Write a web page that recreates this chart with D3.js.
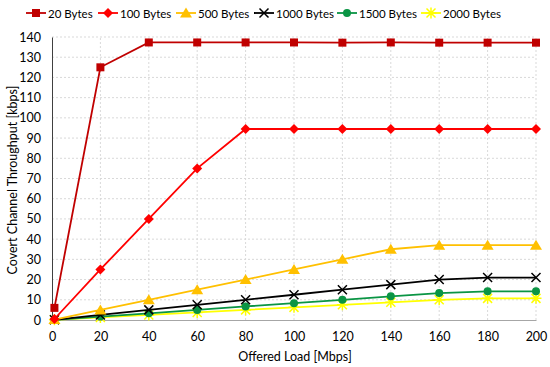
<!DOCTYPE html>
<html><head><meta charset="utf-8">
<script src="https://cdn.jsdelivr.net/npm/d3@7"></script>
<style>
body{margin:0;background:#fff;}
text{font-family:Lato,"Open Sans",sans-serif;fill:#000;}
</style></head>
<body><svg id="c" width="550" height="367"></svg>
<script>
const xValues = [1, 20, 40, 60, 80, 100, 120, 140, 160, 180, 200];
const seriesNames = ["20 Bytes", "100 Bytes", "500 Bytes", "1000 Bytes", "1500 Bytes", "2000 Bytes"];
const s20   = [6, 125, 137.3, 137.3, 137.3, 137.3, 137.2, 137.3, 137.2, 137.2, 137.2];
const s100  = [0.5, 25, 50, 75, 94.5, 94.5, 94.5, 94.5, 94.5, 94.5, 94.5];
const s500  = [0.2, 5, 10, 15, 20, 25, 30, 35, 37, 37, 37];
const s1000 = [0.1, 2.5, 5, 7.5, 10, 12.5, 15, 17.5, 20, 21, 21];
const s1500 = [0.1, 1.7, 3.3, 5, 6.7, 8.3, 10, 11.7, 13.3, 14.2, 14.2];
const s2000 = [0.1, 1.25, 2.5, 3.75, 5, 6.25, 7.5, 8.75, 10, 10.7, 10.7];
const xTicks = [0, 20, 40, 60, 80, 100, 120, 140, 160, 180, 200];
const yTicks = [0, 10, 20, 30, 40, 50, 60, 70, 80, 90, 100, 110, 120, 130, 140];
const colors = ["#C00000", "#FF0000", "#FFC000", "#000000", "#0A9544", "#FFFF00"];
const markers = ["square", "diamond", "triangle", "x", "circle", "star"];
const allSeries = [s20, s100, s500, s1000, s1500, s2000];

const FS = "12.5px";
const svg = d3.select("#c");
const x = d3.scaleLinear().domain([0, 200]).range([52, 536]);
const y = d3.scaleLinear().domain([0, 140]).range([320, 37]);

// grid
const g = svg.append("g");
g.selectAll(".hg").data(yTicks.filter(d => d > 0)).join("line")
  .attr("x1", x(0)).attr("x2", x(200)).attr("y1", d => y(d)).attr("y2", d => y(d))
  .attr("stroke", "#d9d9d9").attr("stroke-width", 1).attr("stroke-dasharray", "2,2");
g.selectAll(".vg").data(xTicks.filter(d => d > 0)).join("line")
  .attr("x1", d => x(d)).attr("x2", d => x(d)).attr("y1", y(0)).attr("y2", y(140))
  .attr("stroke", "#d9d9d9").attr("stroke-width", 1).attr("stroke-dasharray", "2,2");

// axes
const xAxis = d3.axisBottom(x).tickValues(xTicks).tickSize(0).tickPadding(12);
const yAxis = d3.axisLeft(y).tickValues(yTicks).tickSize(0).tickPadding(11);
const gx = svg.append("g").attr("transform", `translate(0,${y(0)})`).call(xAxis);
gx.select(".domain").attr("stroke", "#a6a6a6").attr("stroke-width", 1);
const gy = svg.append("g").attr("transform", `translate(${x(0)},0)`).call(yAxis);
gy.select(".domain").attr("stroke", "#404040").attr("stroke-width", 1);
svg.selectAll(".tick text").style("font-size", FS).attr("fill", "#000").style("font-family", "Lato,sans-serif");

svg.append("text").attr("x", 295).attr("y", 361).attr("text-anchor", "middle")
  .style("font-size", FS).text("Offered Load [Mbps]");
svg.append("text").attr("transform", "translate(17,180) rotate(-90)").attr("text-anchor", "middle")
  .style("font-size", FS).text("Covert Channel Throughput [kbps]");

function drawMarker(sel, type, color) {
  if (type === "square") sel.append("rect").attr("x", -4).attr("y", -4).attr("width", 8).attr("height", 8).attr("fill", color);
  else if (type === "diamond") sel.append("path").attr("d", "M0,-5L5,0L0,5L-5,0Z").attr("fill", color);
  else if (type === "triangle") sel.append("path").attr("d", "M0,-5.5L6,4.5L-6,4.5Z").attr("fill", color);
  else if (type === "x") sel.append("path").attr("d", "M-4.5,-4.5L4.5,4.5M-4.5,4.5L4.5,-4.5").attr("stroke", color).attr("stroke-width", 1.5).attr("fill", "none");
  else if (type === "circle") sel.append("circle").attr("r", 4).attr("fill", color);
  else if (type === "star") sel.append("path").attr("d", "M-4.5,-4.5L4.5,4.5M-4.5,4.5L4.5,-4.5M0,-5.5L0,5.5M-5.5,0L5.5,0").attr("stroke", color).attr("stroke-width", 1.5).attr("fill", "none");
}

const line = d3.line().x((d, i) => x(xValues[i])).y(d => y(d));
for (let k = allSeries.length - 1; k >= 0; k--) {
  const data = allSeries[k];
  svg.append("path").datum(data).attr("d", line).attr("fill", "none")
    .attr("stroke", colors[k]).attr("stroke-width", 1.8);
  data.forEach((v, i) => {
    const m = svg.append("g").attr("transform", `translate(${x(xValues[i])},${y(v)})`);
    drawMarker(m, markers[k], colors[k]);
  });
}

// legend
const legendStarts = [26, 98, 176, 254, 337, 421];
seriesNames.forEach((name, k) => {
  const lg = svg.append("g").attr("transform", `translate(${legendStarts[k]},13)`);
  lg.append("line").attr("x1", 0).attr("x2", 20).attr("y1", 0).attr("y2", 0)
    .attr("stroke", colors[k]).attr("stroke-width", 1.8);
  const m = lg.append("g").attr("transform", "translate(10,0)");
  drawMarker(m, markers[k], colors[k]);
  lg.append("text").attr("x", 22).attr("y", 4.5).style("font-size", "11.5px").text(name);
});
</script></body></html>
